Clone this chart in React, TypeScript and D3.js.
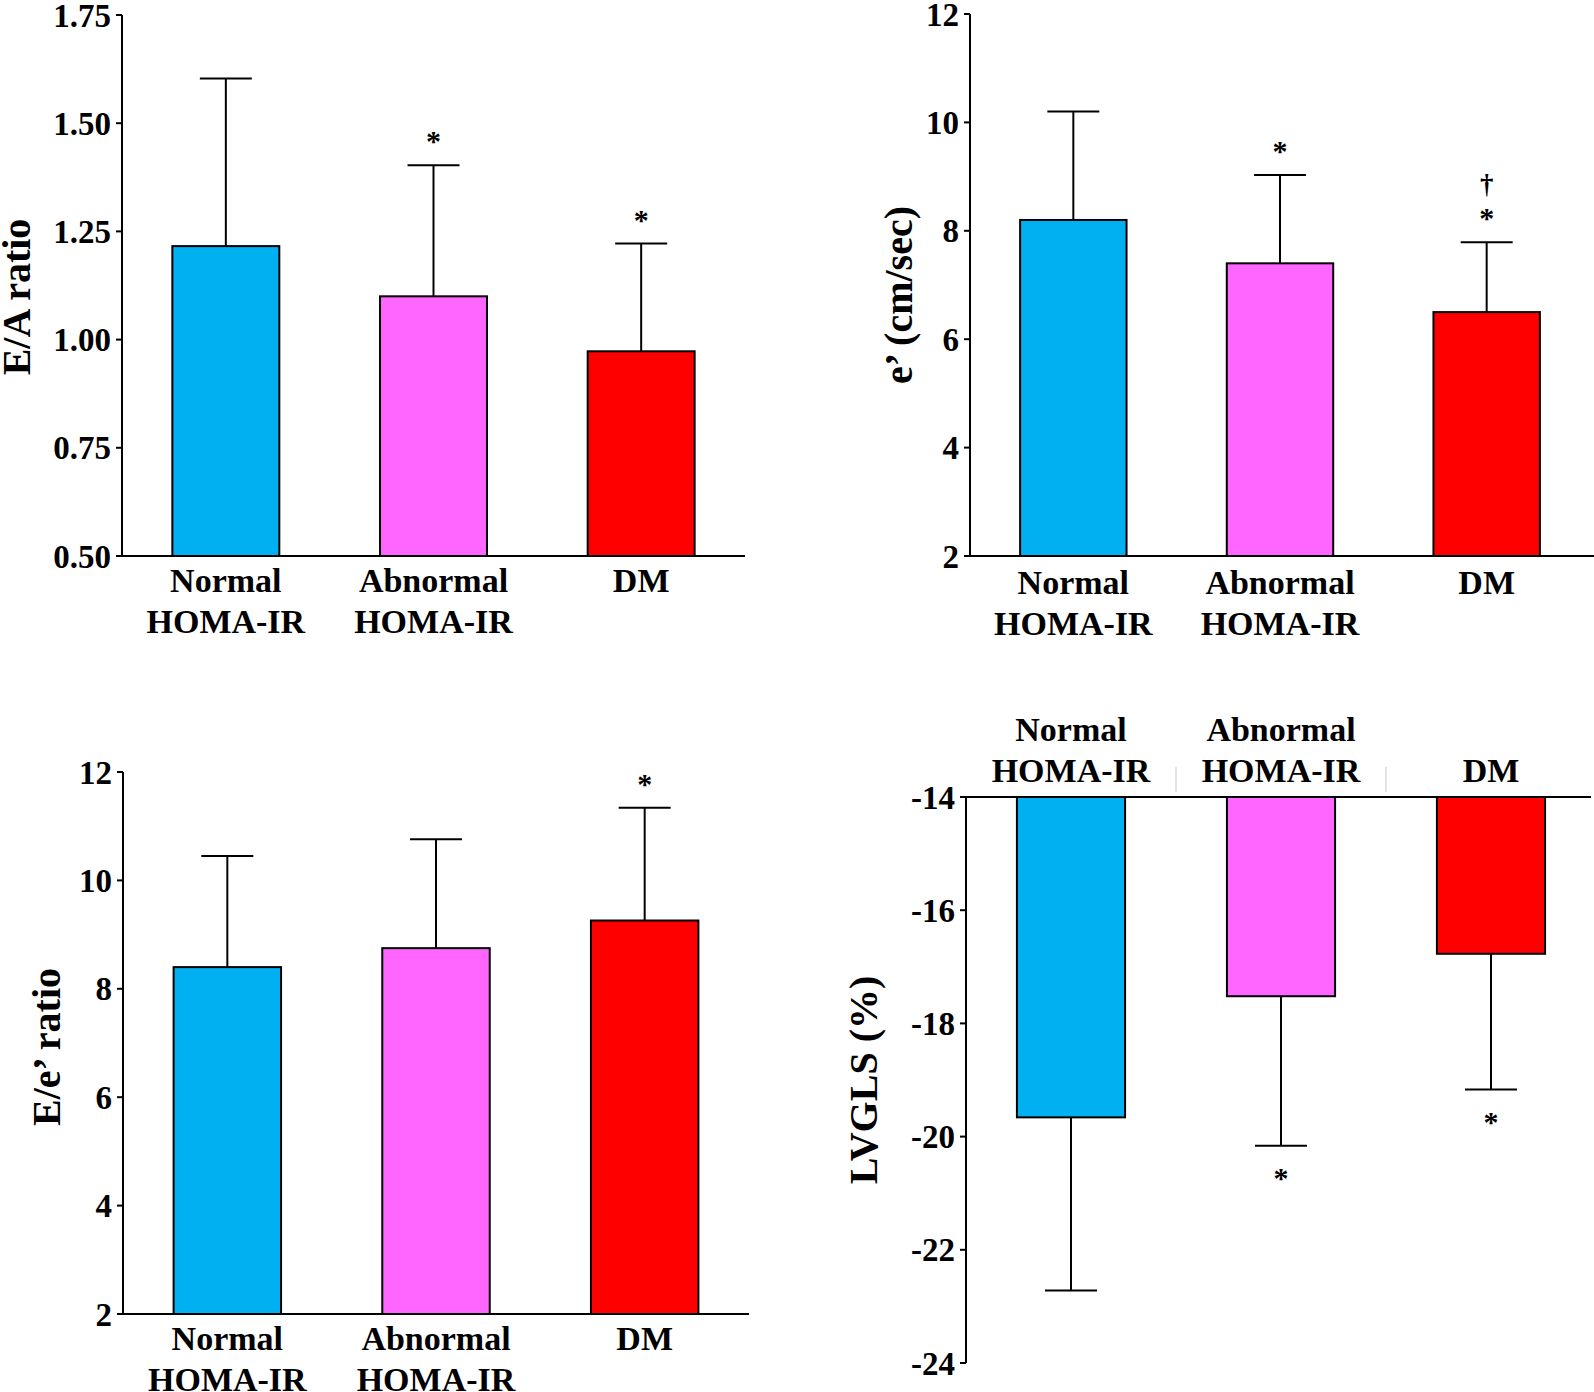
import React from "react";
import * as d3 from "d3";

// ---------- data ----------
const catLine1 = ["Normal", "Abnormal", "DM"];
const catLine2 = ["HOMA-IR", "HOMA-IR", ""];
const barColors = ["#00B0F0", "#FF66FF", "#FF0000"];

const eaMean = [1.216, 1.1, 0.973];
const eaSD = [0.387, 0.303, 0.249];
const eaSig = [[], ["*"], ["*"]];
const eaTicks = [0.5, 0.75, 1.0, 1.25, 1.5, 1.75];

const ePrimeMean = [8.2, 7.4, 6.5];
const ePrimeSD = [2.0, 1.63, 1.29];
const ePrimeSig = [[], ["*"], ["*", "†"]];
const ePrimeTicks = [2, 4, 6, 8, 10, 12];

const eeMean = [8.4, 8.75, 9.26];
const eeSD = [2.05, 2.01, 2.08];
const eeSig = [[], [], ["*"]];
const eeTicks = [2, 4, 6, 8, 10, 12];

const lvMean = [-19.66, -17.52, -16.77];
const lvSD = [3.06, 2.64, 2.4];
const lvSig = [[], ["*"], ["*"]];
const lvTicks = [-14, -16, -18, -20, -22, -24];

const FONT = "'Liberation Serif', 'Times New Roman', Times, serif";

type PanelProps = {
  title: string;
  mean: number[];
  sd: number[];
  sig: string[][];
  ticks: number[];
  domain: [number, number];
  fmt: (v: number) => string;
  axisX: number;
  xEnd: number;
  lineEnd: number;
  yTop: number;
  yBot: number;
  titleX: number;
  titleY: number;
  labelsTop?: boolean;
  labelY1: number;
  labelY2: number;
};

function Panel(p: PanelProps) {
  const inverted = !!p.labelsTop;
  // domain[0] is the baseline value
  const y = d3
    .scaleLinear()
    .domain(p.domain)
    .range(inverted ? [p.yTop, p.yBot] : [p.yBot, p.yTop]);
  const x = d3
    .scaleBand<number>()
    .domain(d3.range(p.mean.length))
    .range([p.axisX, p.xEnd])
    .paddingInner(0.485)
    .paddingOuter(0.2425);
  const base = y(p.domain[0]);
  const capW = 52;
  return (
    <g>
      {/* bars */}
      {p.mean.map((m, i) => {
        const x0 = x(i)!;
        const yv = y(m);
        const top = Math.min(yv, base);
        const h = Math.abs(yv - base);
        return (
          <rect
            key={"b" + i}
            x={x0}
            y={top}
            width={x.bandwidth()}
            height={h}
            fill={barColors[i]}
            stroke="#000"
            strokeWidth={2}
          />
        );
      })}
      {/* error bars */}
      {p.mean.map((m, i) => {
        const cx = x(i)! + x.bandwidth() / 2;
        const yv = y(m);
        const ye = inverted ? y(m - p.sd[i]) : y(m + p.sd[i]);
        return (
          <g key={"e" + i} stroke="#000" strokeWidth={2}>
            <line x1={cx} x2={cx} y1={yv} y2={ye} />
            <line x1={cx - capW / 2} x2={cx + capW / 2} y1={ye} y2={ye} />
          </g>
        );
      })}
      {/* significance marks */}
      {p.mean.map((m, i) => {
        const cx = x(i)! + x.bandwidth() / 2;
        const ye = inverted ? y(m - p.sd[i]) : y(m + p.sd[i]);
        return p.sig[i].map((s, k) => {
          const off = 28 + k * 30;
          const cy = inverted ? ye + off : ye - off;
          return (
            <text
              key={"s" + i + k}
              x={cx}
              y={cy + (s === "*" ? 14 : 9)}
              textAnchor="middle"
              fontFamily={FONT}
              fontWeight="bold"
              fontSize={s === "*" ? 30 : 27}
              fill="#000"
            >
              {s}
            </text>
          );
        });
      })}
      {/* y axis */}
      <line x1={p.axisX} x2={p.axisX} y1={p.yTop} y2={p.yBot} stroke="#000" strokeWidth={2} />
      {p.ticks.map((t) => (
        <g key={"t" + t}>
          <line x1={p.axisX - 6} x2={p.axisX} y1={y(t)} y2={y(t)} stroke="#000" strokeWidth={2} />
          <text
            x={p.axisX - 11}
            y={y(t)}
            dy="0.35em"
            textAnchor="end"
            fontFamily={FONT}
            fontWeight="bold"
            fontSize={33}
            fill="#000"
          >
            {p.fmt(t)}
          </text>
        </g>
      ))}
      {/* baseline axis */}
      <line x1={p.axisX - 6} x2={p.lineEnd} y1={base} y2={base} stroke="#000" strokeWidth={2} />
      {/* category labels */}
      {catLine1.map((c, i) => {
        const cx = x(i)! + x.bandwidth() / 2;
        const single = catLine2[i] === "";
        const y1 = inverted && single ? p.labelY2 : p.labelY1;
        return (
          <g key={"c" + i} fontFamily={FONT} fontWeight="bold" fontSize={34} fill="#000" textAnchor="middle">
            <text x={cx} y={y1}>{c}</text>
            {!single && <text x={cx} y={p.labelY2}>{catLine2[i]}</text>}
          </g>
        );
      })}
      {inverted &&
        [1, 2].map((i) => {
          const sx = x(i)! - (x.step() - x.bandwidth()) / 2;
          return (
            <line key={"sep" + i} x1={sx} x2={sx} y1={767} y2={792} stroke="#d8d8d8" strokeWidth={1.5} />
          );
        })}
      {/* y title */}
      <text
        transform={`translate(${p.titleX},${p.titleY}) rotate(-90)`}
        textAnchor="middle"
        dy="0.35em"
        fontFamily={FONT}
        fontWeight="bold"
        fontSize={40}
        fill="#000"
      >
        {p.title}
      </text>
    </g>
  );
}

export default function App() {
  const f2 = d3.format(".2f");
  const fInt = (v: number) => String(v);
  return (
    <svg
      width={1594}
      height={1392}
      style={{ position: "absolute", left: 0, top: 0, display: "block", background: "#fff" }}
    >
      <rect width={1594} height={1392} fill="#fff" />
      <Panel
        title="E/A ratio"
        mean={eaMean}
        sd={eaSD}
        sig={eaSig}
        ticks={eaTicks}
        domain={[0.5, 1.75]}
        fmt={f2}
        axisX={122}
        xEnd={745}
        lineEnd={745}
        yTop={15}
        yBot={556}
        titleX={16}
        titleY={297}
        labelY1={592}
        labelY2={633}
      />
      <Panel
        title="e’ (cm/sec)"
        mean={ePrimeMean}
        sd={ePrimeSD}
        sig={ePrimeSig}
        ticks={ePrimeTicks}
        domain={[2, 12]}
        fmt={fInt}
        axisX={970}
        xEnd={1590}
        lineEnd={1594}
        yTop={14}
        yBot={556}
        titleX={898}
        titleY={295}
        labelY1={594}
        labelY2={635}
      />
      <Panel
        title="E/e’ ratio"
        mean={eeMean}
        sd={eeSD}
        sig={eeSig}
        ticks={eeTicks}
        domain={[2, 12]}
        fmt={fInt}
        axisX={123}
        xEnd={749}
        lineEnd={749}
        yTop={772}
        yBot={1314}
        titleX={46}
        titleY={1047}
        labelY1={1350}
        labelY2={1391}
      />
      <Panel
        title="LVGLS (%)"
        mean={lvMean}
        sd={lvSD}
        sig={lvSig}
        ticks={lvTicks}
        domain={[-14, -24]}
        fmt={fInt}
        axisX={966}
        xEnd={1596}
        lineEnd={1591}
        yTop={797}
        yBot={1363}
        titleX={863}
        titleY={1080}
        labelsTop={true}
        labelY1={741}
        labelY2={782}
      />
    </svg>
  );
}
